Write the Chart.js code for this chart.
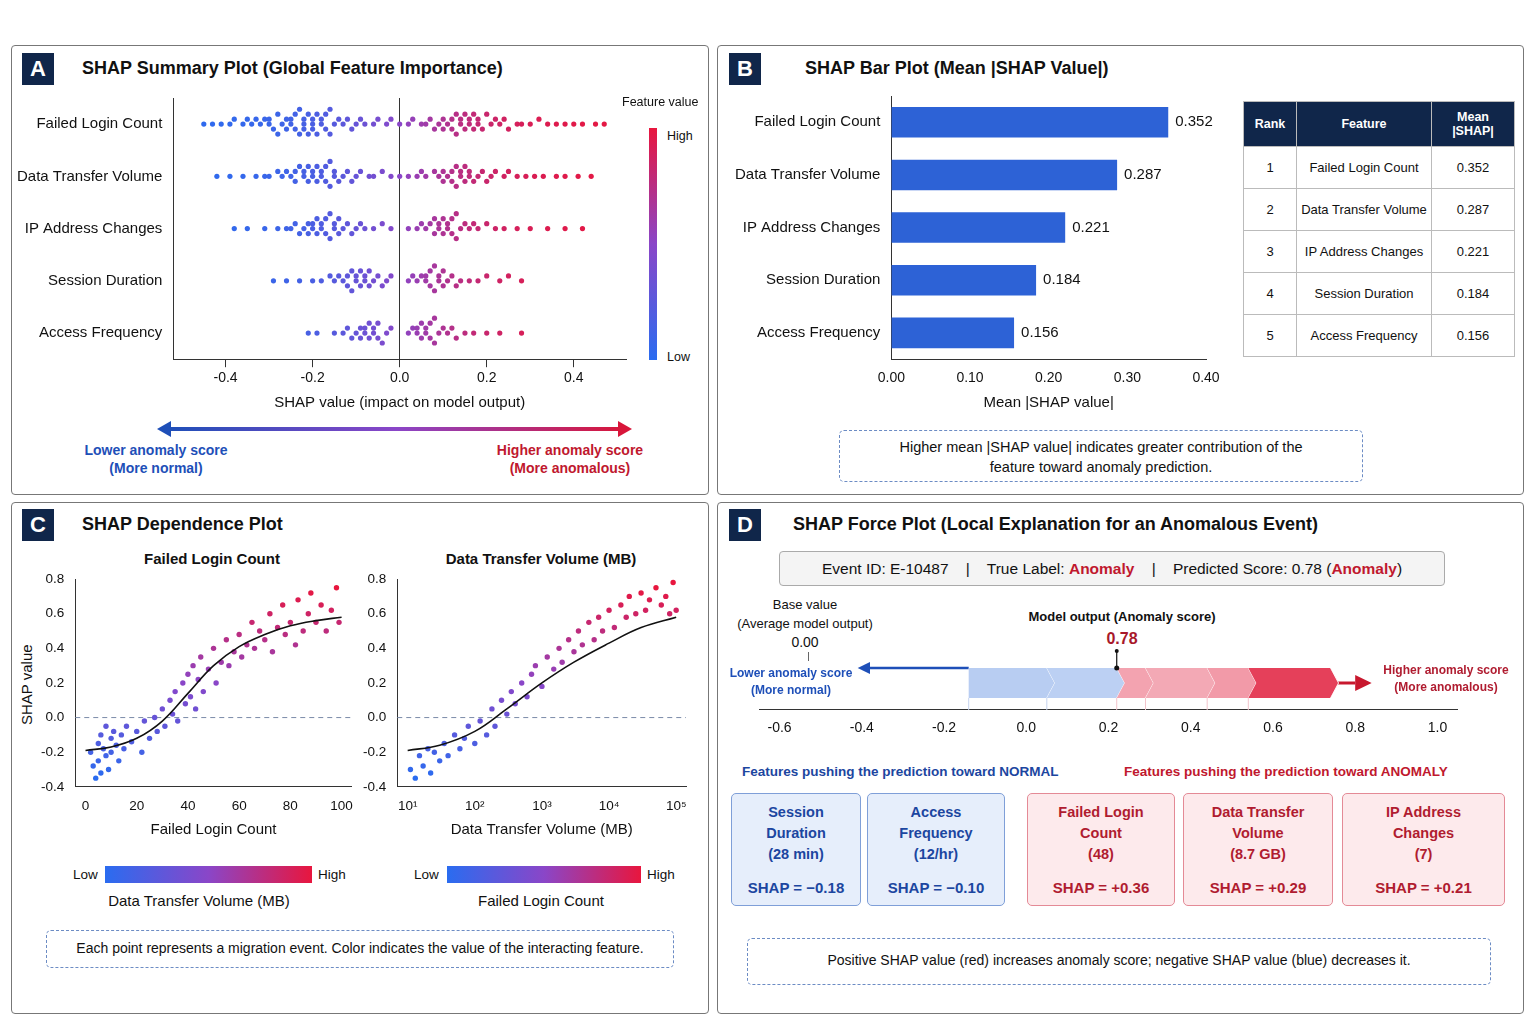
<!DOCTYPE html>
<html><head><meta charset="utf-8">
<script src="https://cdn.jsdelivr.net/npm/chart.js@4"></script>
<style>
body{margin:0;width:1536px;height:1024px;background:#fff;font-family:"Liberation Sans",Arial,sans-serif;color:#111;position:relative;overflow:hidden}
.abs{position:absolute}
.panel{position:absolute;border:1px solid #777;border-radius:4px;box-sizing:border-box}
.badge{position:absolute;width:32px;height:32px;background:#10264a;color:#fff;font-weight:bold;font-size:22px;text-align:center;line-height:32px}
.ptitle{position:absolute;font-weight:bold;font-size:18px}
.c{text-align:center}
.dash{position:absolute;border:1.5px dashed #6c8cc4;border-radius:5px;box-sizing:border-box;text-align:center;font-size:14.5px}
table{border-collapse:collapse;font-size:13px}
td,th{border:1px solid #bbb;text-align:center}
th{background:#10264a;color:#fff;font-weight:bold;font-size:12.5px;height:42px}
td{height:41px;padding:0}
.card{position:absolute;top:793px;height:113px;border-radius:5px;box-sizing:border-box;text-align:center;font-weight:bold;font-size:14.5px;line-height:21px;padding-top:8px}
.blue{background:#e6eefb;border:1.5px solid #7f9fd8;color:#1c46a0}
.red{background:#fdeaec;border:1.5px solid #e48a96;color:#b01c30}
</style></head><body>
<div class="panel" style="left:11px;top:45px;width:698px;height:450px"></div>
<div class="panel" style="left:717px;top:45px;width:807px;height:450px"></div>
<div class="panel" style="left:11px;top:502px;width:698px;height:512px"></div>
<div class="panel" style="left:717px;top:502px;width:807px;height:512px"></div>
<div class="badge" style="left:22px;top:53px">A</div><div class="ptitle" style="left:82px;top:58px">SHAP Summary Plot (Global Feature Importance)</div>
<div class="badge" style="left:729px;top:53px">B</div><div class="ptitle" style="left:805px;top:58px">SHAP Bar Plot (Mean |SHAP Value|)</div>
<div class="badge" style="left:22px;top:509px">C</div><div class="ptitle" style="left:82px;top:514px">SHAP Dependence Plot</div>
<div class="badge" style="left:729px;top:509px">D</div><div class="ptitle" style="left:793px;top:514px">SHAP Force Plot (Local Explanation for an Anomalous Event)</div>

<!-- A -->
<canvas id="cA" class="abs" style="left:14px;top:86px;width:616px;height:330px"></canvas>
<div class="abs" style="left:622px;top:95px;font-size:12.5px">Feature value</div>
<div class="abs" style="left:649px;top:128px;width:8px;height:232px;background:linear-gradient(#e8163e,#8a46c8,#2a6cf0)"></div>
<div class="abs" style="left:667px;top:129px;font-size:12.5px">High</div>
<div class="abs" style="left:667px;top:350px;font-size:12.5px">Low</div>
<div class="abs" style="left:168px;top:427px;width:456px;height:4px;background:linear-gradient(90deg,#1e4fb8,#8a46c8,#d8163a)"></div>
<div class="abs" style="left:157px;top:421px;border-right:14px solid #1e4fb8;border-top:8px solid transparent;border-bottom:8px solid transparent"></div>
<div class="abs" style="left:618px;top:421px;border-left:14px solid #d8163a;border-top:8px solid transparent;border-bottom:8px solid transparent"></div>
<div class="abs c" style="left:60px;top:441px;width:192px;font-size:14px;font-weight:bold;color:#1e4fb8;line-height:18px">Lower anomaly score<br>(More normal)</div>
<div class="abs c" style="left:474px;top:441px;width:192px;font-size:14px;font-weight:bold;color:#c0182e;line-height:18px">Higher anomaly score<br>(More anomalous)</div>

<!-- B -->
<canvas id="cB" class="abs" style="left:732px;top:84px;width:500px;height:332px"></canvas>
<table class="abs" style="left:1243px;top:101px;width:272px">
<tr><th style="width:50px">Rank</th><th>Feature</th><th style="width:80px">Mean<br>|SHAP|</th></tr>
<tbody id="tb"></tbody></table>
<div class="dash" style="left:839px;top:430px;width:524px;height:52px;padding-top:6px;line-height:20px">Higher mean |SHAP value| indicates greater contribution of the<br>feature toward anomaly prediction.</div>

<!-- C -->
<div class="abs c" style="left:112px;top:550px;width:200px;font-weight:bold;font-size:15px">Failed Login Count</div>
<div class="abs c" style="left:421px;top:550px;width:240px;font-weight:bold;font-size:15px">Data Transfer Volume (MB)</div>
<div class="abs" style="left:18px;top:725px;transform:rotate(-90deg);transform-origin:0 0;font-size:15px">SHAP value</div>
<canvas id="cC1" class="abs" style="left:38px;top:568px;width:318px;height:275px"></canvas>
<canvas id="cC2" class="abs" style="left:360px;top:568px;width:330px;height:275px"></canvas>
<div class="abs" style="left:73px;top:867px;font-size:13.5px">Low</div>
<div class="abs" style="left:105px;top:866px;width:207px;height:17px;background:linear-gradient(90deg,#2a6cf0,#8a46c8,#e8163e)"></div>
<div class="abs" style="left:318px;top:867px;font-size:13.5px">High</div>
<div class="abs c" style="left:70px;top:892px;width:258px;font-size:15px">Data Transfer Volume (MB)</div>
<div class="abs" style="left:414px;top:867px;font-size:13.5px">Low</div>
<div class="abs" style="left:447px;top:866px;width:194px;height:17px;background:linear-gradient(90deg,#2a6cf0,#8a46c8,#e8163e)"></div>
<div class="abs" style="left:647px;top:867px;font-size:13.5px">High</div>
<div class="abs c" style="left:410px;top:892px;width:262px;font-size:15px">Failed Login Count</div>
<div class="dash" style="left:46px;top:930px;width:628px;height:38px;padding-top:9px;font-size:14px">Each point represents a migration event. Color indicates the value of the interacting feature.</div>

<!-- D -->
<div class="abs c" style="left:779px;top:551px;width:664px;height:33px;border:1px solid #aaa;border-radius:4px;background:#f4f4f4;line-height:33px;font-size:15.5px">Event ID: E-10487 &nbsp;&nbsp; | &nbsp;&nbsp; True Label: <b style="color:#c0182e">Anomaly</b> &nbsp;&nbsp; | &nbsp;&nbsp; Predicted Score: 0.78 (<b style="color:#c0182e">Anomaly</b>)</div>
<div class="abs c" style="left:730px;top:595px;width:150px;font-size:13px;line-height:19px">Base value<br>(Average model output)<br><span style="font-size:14px">0.00</span></div>
<div class="abs" style="left:808px;top:652px;width:1px;height:9px;background:#666"></div>
<div class="abs c" style="left:1022px;top:609px;width:200px;font-size:13px;font-weight:bold">Model output (Anomaly score)</div>
<div class="abs c" style="left:1092px;top:630px;width:60px;font-size:16px;font-weight:bold;color:#a8182a">0.78</div>
<canvas id="cD" class="abs" style="left:759px;top:648px;width:699px;height:92px"></canvas>
<div class="abs c" style="left:726px;top:665px;width:130px;font-size:12px;font-weight:bold;color:#1e4fb8;line-height:17px">Lower anomaly score<br>(More normal)</div>
<div class="abs c" style="left:1380px;top:662px;width:132px;font-size:12px;font-weight:bold;color:#b01c30;line-height:17px">Higher anomaly score<br>(More anomalous)</div>
<div class="abs" style="left:742px;top:764px;font-size:13.5px;font-weight:bold;color:#1c46a0">Features pushing the prediction toward NORMAL</div>
<div class="abs" style="left:1124px;top:764px;font-size:13.5px;font-weight:bold;color:#c0182e">Features pushing the prediction toward ANOMALY</div>
<div id="cards"></div>
<div class="dash" style="left:747px;top:938px;width:744px;height:47px;padding-top:13px;font-size:14px">Positive SHAP value (red) increases anomaly score; negative SHAP value (blue) decreases it.</div>

<script>
// ---- data ----
const features = ['Failed Login Count', 'Data Transfer Volume', 'IP Address Changes', 'Session Duration', 'Access Frequency'];
const meanShap = [0.352, 0.287, 0.221, 0.184, 0.156];

const swarmFLC = [-0.45,-0.43,-0.41,-0.39,-0.38,-0.36,-0.35,-0.34,-0.33,-0.32,-0.31,-0.30,-0.30,-0.29,-0.28,-0.28,-0.27,-0.26,-0.26,-0.25,-0.25,-0.24,-0.24,-0.23,-0.23,-0.22,-0.22,-0.22,-0.21,-0.21,-0.20,-0.20,-0.20,-0.19,-0.19,-0.18,-0.18,-0.17,-0.17,-0.16,-0.16,-0.15,-0.14,-0.13,-0.12,-0.11,-0.10,-0.09,-0.08,-0.06,-0.05,-0.03,-0.02,0.00,0.02,0.03,0.05,0.06,0.07,0.08,0.09,0.10,0.10,0.11,0.12,0.12,0.13,0.13,0.14,0.14,0.15,0.15,0.16,0.16,0.17,0.17,0.18,0.18,0.19,0.20,0.21,0.22,0.23,0.24,0.25,0.27,0.28,0.30,0.32,0.34,0.36,0.38,0.40,0.42,0.45,0.47];
const swarmDTV = [-0.42,-0.39,-0.36,-0.33,-0.31,-0.30,-0.28,-0.27,-0.26,-0.25,-0.24,-0.24,-0.23,-0.22,-0.22,-0.21,-0.21,-0.20,-0.20,-0.19,-0.19,-0.18,-0.18,-0.17,-0.17,-0.16,-0.16,-0.15,-0.15,-0.14,-0.13,-0.12,-0.11,-0.10,-0.09,-0.07,-0.06,-0.04,-0.02,0.00,0.02,0.04,0.05,0.06,0.08,0.09,0.10,0.10,0.11,0.12,0.12,0.13,0.13,0.14,0.14,0.15,0.15,0.16,0.16,0.17,0.18,0.19,0.20,0.21,0.22,0.24,0.25,0.27,0.29,0.31,0.33,0.36,0.38,0.41,0.44];
const swarmIP = [-0.38,-0.35,-0.31,-0.28,-0.26,-0.25,-0.24,-0.23,-0.22,-0.21,-0.21,-0.20,-0.20,-0.19,-0.19,-0.18,-0.18,-0.17,-0.17,-0.16,-0.16,-0.15,-0.15,-0.14,-0.14,-0.13,-0.12,-0.11,-0.10,-0.09,-0.08,-0.06,-0.04,-0.02,0.02,0.04,0.05,0.06,0.07,0.08,0.08,0.09,0.09,0.10,0.10,0.11,0.11,0.12,0.12,0.13,0.13,0.14,0.15,0.16,0.17,0.18,0.20,0.22,0.24,0.27,0.30,0.34,0.38,0.42];
const swarmSD = [-0.29,-0.26,-0.23,-0.20,-0.18,-0.16,-0.15,-0.14,-0.13,-0.12,-0.12,-0.11,-0.11,-0.10,-0.10,-0.09,-0.09,-0.08,-0.08,-0.07,-0.07,-0.06,-0.05,-0.04,-0.03,-0.02,0.02,0.03,0.04,0.05,0.06,0.06,0.07,0.07,0.08,0.08,0.09,0.09,0.10,0.10,0.11,0.12,0.13,0.14,0.16,0.18,0.20,0.23,0.25,0.28];
const swarmAF = [-0.21,-0.19,-0.15,-0.13,-0.12,-0.11,-0.10,-0.09,-0.09,-0.08,-0.08,-0.07,-0.07,-0.06,-0.06,-0.05,-0.05,-0.04,-0.03,-0.02,0.02,0.03,0.04,0.04,0.05,0.05,0.06,0.06,0.07,0.07,0.08,0.08,0.09,0.10,0.11,0.12,0.13,0.15,0.17,0.20,0.23,0.28];
const swarmRows = [swarmFLC, swarmDTV, swarmIP, swarmSD, swarmAF];
const shapTicks = [-0.4, -0.2, 0.0, 0.2, 0.4];

const depLoginPts = [[2,-0.2],[3,-0.28],[4,-0.35],[5,-0.15],[5,-0.25],[6,-0.1],[6,-0.32],[7,-0.18],[8,-0.22],[8,-0.05],[9,-0.3],[10,-0.12],[10,-0.2],[11,-0.08],[12,-0.16],[13,-0.25],[14,-0.1],[15,-0.18],[16,-0.05],[18,-0.14],[20,-0.08],[22,-0.2],[23,-0.02],[25,-0.12],[27,0.0],[28,-0.08],[30,0.05],[31,-0.05],[33,0.1],[34,0.02],[35,0.15],[36,-0.02],[38,0.2],[39,0.08],[40,0.25],[41,0.12],[42,0.3],[43,0.05],[44,0.22],[45,0.35],[46,0.15],[48,0.28],[50,0.4],[51,0.2],[53,0.32],[55,0.45],[56,0.3],[58,0.38],[60,0.48],[61,0.35],[63,0.42],[65,0.55],[66,0.4],[68,0.5],[70,0.45],[72,0.6],[73,0.38],[75,0.52],[77,0.65],[78,0.48],[80,0.55],[82,0.42],[83,0.68],[85,0.5],[87,0.6],[88,0.72],[90,0.55],[92,0.65],[94,0.5],[96,0.62],[98,0.75],[99,0.55]];
const depLoginFit = [[0,-0.19],[10,-0.17],[20,-0.12],[30,-0.02],[40,0.14],[50,0.3],[60,0.41],[70,0.48],[80,0.53],[90,0.56],[100,0.58]];
const depVolPts = [[11,-0.3],[13,-0.35],[15,-0.22],[17,-0.28],[20,-0.18],[22,-0.32],[25,-0.2],[30,-0.25],[35,-0.15],[40,-0.22],[50,-0.1],[60,-0.18],[70,-0.12],[80,-0.05],[100,-0.15],[120,-0.02],[150,-0.1],[180,0.05],[200,-0.05],[250,0.1],[300,0.02],[350,0.15],[400,0.08],[500,0.2],[600,0.12],[700,0.25],[800,0.3],[1000,0.18],[1200,0.35],[1500,0.28],[1800,0.4],[2000,0.32],[2500,0.45],[3000,0.38],[3500,0.5],[4000,0.42],[5000,0.55],[6000,0.45],[7000,0.58],[8000,0.5],[10000,0.62],[12000,0.52],[15000,0.65],[18000,0.58],[20000,0.7],[25000,0.6],[30000,0.72],[35000,0.62],[40000,0.68],[50000,0.75],[60000,0.65],[70000,0.7],[80000,0.6],[90000,0.78],[100000,0.62]];
const depVolFit = [[10,-0.19],[30,-0.16],[100,-0.08],[300,0.05],[1000,0.2],[3000,0.32],[10000,0.43],[30000,0.52],[100000,0.58]];

const forceStart = [-0.14, 0.05, 0.22, 0.29, 0.44, 0.54];
const forceEnd   = [ 0.05, 0.22, 0.29, 0.44, 0.54, 0.74];
const forceColor = ['#b8cdf2', '#bcd0f3', '#f3a3b0', '#f3a9b5', '#f29aa8', '#e5405a'];
const forceTicks = [-0.6, -0.4, -0.2, 0.0, 0.2, 0.4, 0.6, 0.8, 1.0];

const cardNames = ['Session<br>Duration', 'Access<br>Frequency', 'Failed Login<br>Count', 'Data Transfer<br>Volume', 'IP Address<br>Changes'];
const cardRaw = ['(28 min)', '(12/hr)', '(48)', '(8.7 GB)', '(7)'];
const cardShap = ['\u22120.18', '\u22120.10', '+0.36', '+0.29', '+0.21'];

// ---- helpers ----
function mix(t) {
  const a = [42,108,240], m = [138,70,200], b = [232,22,62];
  const lerp = (p, q, u) => p.map((v, i) => Math.round(v + (q[i] - v) * u));
  const c = t < 0.5 ? lerp(a, m, t * 2) : lerp(m, b, (t - 0.5) * 2);
  return `rgb(${c[0]},${c[1]},${c[2]})`;
}
Chart.defaults.font.family = '"Liberation Sans", Arial, sans-serif';
Chart.defaults.color = '#111';
Chart.defaults.animation = false;
const noLegend = { legend: { display: false }, tooltip: { enabled: false } };

// ---- A: beeswarm (points sharing a bin stack up and down) ----
const swarmPts = [];
swarmRows.forEach((row, r) => {
  const bins = {};
  row.forEach(x => {
    const k = Math.round(x / 0.024);
    const n = bins[k] = (bins[k] || 0) + 1;
    const off = (n % 2 ? 1 : -1) * Math.floor(n / 2) * 0.095;
    swarmPts.push({ x, y: r + off });
  });
});
const swarmColor = x => mix(1 / (1 + Math.exp(-x * 8)));
new Chart(document.getElementById('cA'), {
  type: 'scatter',
  data: { datasets: [{ data: swarmPts, pointRadius: 2.6, borderWidth: 0,
    backgroundColor: swarmPts.map(p => swarmColor(p.x)) }] },
  options: { responsive: false, plugins: noLegend,
    scales: {
      x: { min: -0.52, max: 0.52, afterBuildTicks: a => { a.ticks = shapTicks.map(v => ({ value: v })); },
        ticks: { font: { size: 14 }, callback: v => v.toFixed(1) },
        grid: { color: c => c.tick && c.tick.value === 0 ? '#333' : 'transparent', drawTicks: true, tickColor: '#333' },
        border: { color: '#333' },
        title: { display: true, text: 'SHAP value (impact on model output)', font: { size: 15 } } },
      y: { min: -0.5, max: 4.5, reverse: true, afterBuildTicks: a => { a.ticks = features.map((_, i) => ({ value: i })); },
        ticks: { font: { size: 15 }, callback: v => features[v] }, grid: { display: false }, border: { color: '#333' } }
    } }
});

// ---- B: bar ----
document.getElementById('tb').innerHTML = features.map((f, i) =>
  `<tr><td>${i + 1}</td><td>${f}</td><td>${meanShap[i].toFixed(3)}</td></tr>`).join('');
const barLabels = { id: 'barLabels', afterDatasetsDraw(ch) {
  const ctx = ch.ctx; ctx.font = '15px "Liberation Sans"'; ctx.fillStyle = '#111'; ctx.textBaseline = 'middle';
  ch.getDatasetMeta(0).data.forEach((b, i) => ctx.fillText(meanShap[i].toFixed(3), b.x + 7, b.y));
} };
new Chart(document.getElementById('cB'), {
  type: 'bar',
  data: { labels: features, datasets: [{ data: meanShap, backgroundColor: '#2d62d6', barPercentage: 0.58, categoryPercentage: 1 }] },
  options: { responsive: false, indexAxis: 'y', plugins: noLegend, layout: { padding: { right: 26 } },
    scales: {
      x: { min: 0, max: 0.4, ticks: { stepSize: 0.1, font: { size: 14 }, callback: v => v.toFixed(2) },
        grid: { display: false, tickColor: '#333' }, border: { color: '#333' },
        title: { display: true, text: 'Mean |SHAP value|', font: { size: 15 } } },
      y: { ticks: { font: { size: 15 } }, grid: { display: false }, border: { color: '#333' } }
    } },
  plugins: [barLabels]
});

// ---- C: dependence ----
const zeroLine = { id: 'zeroLine', beforeDatasetsDraw(ch) {
  const ctx = ch.ctx, y = ch.scales.y.getPixelForValue(0);
  ctx.save(); ctx.strokeStyle = '#7a8aa8'; ctx.setLineDash([5, 4]); ctx.beginPath();
  ctx.moveTo(ch.chartArea.left, y); ctx.lineTo(ch.chartArea.right, y); ctx.stroke(); ctx.restore();
} };
function depChart(id, pts, fit, xScale, title, colT) {
  return new Chart(document.getElementById(id), {
    type: 'scatter',
    data: { datasets: [
      { type: 'line', data: fit.map(([x, y]) => ({ x, y })), borderColor: '#111', borderWidth: 1.6, pointRadius: 0, tension: 0.4 },
      { data: pts.map(([x, y]) => ({ x, y })), pointRadius: 2.7, borderWidth: 0,
        backgroundColor: pts.map(([x, y]) => mix(Math.min(1, Math.max(0, colT(x, y))))) }
    ] },
    options: { responsive: false, plugins: noLegend,
      scales: {
        x: Object.assign({ grid: { display: false, tickColor: '#333' }, border: { color: '#333' },
          title: { display: true, text: title, font: { size: 15 } } }, xScale),
        y: { min: -0.4, max: 0.8, ticks: { stepSize: 0.2, font: { size: 13.5 }, callback: v => v.toFixed(1) },
          grid: { display: false, tickColor: '#333' }, border: { color: '#333' } }
      } },
    plugins: [zeroLine]
  });
}
depChart('cC1', depLoginPts, depLoginFit,
  { min: -4, max: 104, afterBuildTicks: a => { a.ticks = [0, 20, 40, 60, 80, 100].map(v => ({ value: v })); }, ticks: { font: { size: 13.5 } } },
  'Failed Login Count', (x, y) => (y + 0.35) / 1.1);
const sup = { 1: '\u00b9', 2: '\u00b2', 3: '\u00b3', 4: '\u2074', 5: '\u2075' };
depChart('cC2', depVolPts, depVolFit,
  { type: 'logarithmic', min: 7, max: 140000,
    afterBuildTicks: a => { a.ticks = [10, 100, 1000, 10000, 100000].map(v => ({ value: v })); },
    ticks: { font: { size: 13.5 }, callback: v => '10' + sup[Math.round(Math.log10(v))] } },
  'Data Transfer Volume (MB)', (x, y) => (y + 0.35) / 1.1);

// ---- D: force plot ----
document.getElementById('cards').innerHTML = cardNames.map((n, i) => {
  const left = [731, 867, 1027, 1183, 1342][i], w = [130, 138, 148, 150, 163][i];
  return `<div class="card ${i < 2 ? 'blue' : 'red'}" style="left:${left}px;width:${w}px">${n}<br>${cardRaw[i]}<div style="margin-top:12px;font-size:15px">SHAP = ${cardShap[i]}</div></div>`;
}).join('');
const chevrons = { id: 'chevrons', afterDatasetsDraw(ch) {
  const ctx = ch.ctx, xs = ch.scales.x, top = 20, bot = 50, mid = 35, k = 8;
  const px = v => xs.getPixelForValue(v);
  ctx.save();
  ctx.strokeStyle = '#1e4fb8'; ctx.lineWidth = 2.5; ctx.beginPath(); ctx.moveTo(px(forceStart[0]), top); ctx.lineTo(px(-0.39), top); ctx.stroke();
  ctx.fillStyle = '#1e4fb8'; ctx.beginPath(); ctx.moveTo(px(-0.41), top); ctx.lineTo(px(-0.38), top - 6); ctx.lineTo(px(-0.38), top + 6); ctx.fill();
  ctx.strokeStyle = '#c8182e'; ctx.lineWidth = 3; ctx.beginPath(); ctx.moveTo(px(0.74), mid); ctx.lineTo(px(0.8), mid); ctx.stroke();
  ctx.fillStyle = '#c8182e'; ctx.beginPath(); ctx.moveTo(px(0.84), mid); ctx.lineTo(px(0.8), mid - 8); ctx.lineTo(px(0.8), mid + 8); ctx.fill();
  forceStart.forEach((s, i) => {
    const a = px(s), b = px(forceEnd[i]);
    ctx.fillStyle = forceColor[i]; ctx.beginPath();
    ctx.moveTo(a, top); ctx.lineTo(b, top); ctx.lineTo(b + k, mid); ctx.lineTo(b, bot); ctx.lineTo(a, bot);
    if (i > 0) ctx.lineTo(a + k, mid);
    ctx.closePath(); ctx.fill();
    ctx.strokeStyle = 'rgba(255,255,255,0.9)'; ctx.lineWidth = 1; ctx.beginPath();
    ctx.moveTo(b, top); ctx.lineTo(b + k, mid); ctx.lineTo(b, bot); ctx.stroke();
    ctx.strokeStyle = i < 2 ? '#c5d3ee' : '#f2c4cb'; ctx.beginPath(); ctx.moveTo(a, bot); ctx.lineTo(a, 62); ctx.stroke();
  });
  ctx.strokeStyle = '#111'; ctx.lineWidth = 1.2; ctx.beginPath(); ctx.moveTo(px(0.22), 2); ctx.lineTo(px(0.22), top); ctx.stroke();
  ctx.fillStyle = '#111'; ctx.beginPath(); ctx.arc(px(0.22), top, 2.5, 0, 7); ctx.fill(); ctx.beginPath(); ctx.arc(px(0.22), 3, 2, 0, 7); ctx.fill();
  ctx.restore();
} };
new Chart(document.getElementById('cD'), {
  type: 'scatter',
  data: { datasets: [{ data: [] }] },
  options: { responsive: false, plugins: noLegend, layout: { padding: 0 },
    scales: {
      x: { min: -0.65, max: 1.05, afterBuildTicks: a => { a.ticks = forceTicks.map(v => ({ value: v })); },
        ticks: { font: { size: 14 }, callback: v => v.toFixed(1) },
        grid: { display: false, tickColor: '#333' }, border: { color: '#333' } },
      y: { display: false, min: 0, max: 1 }
    } },
  plugins: [chevrons]
});
</script>
</body></html>
